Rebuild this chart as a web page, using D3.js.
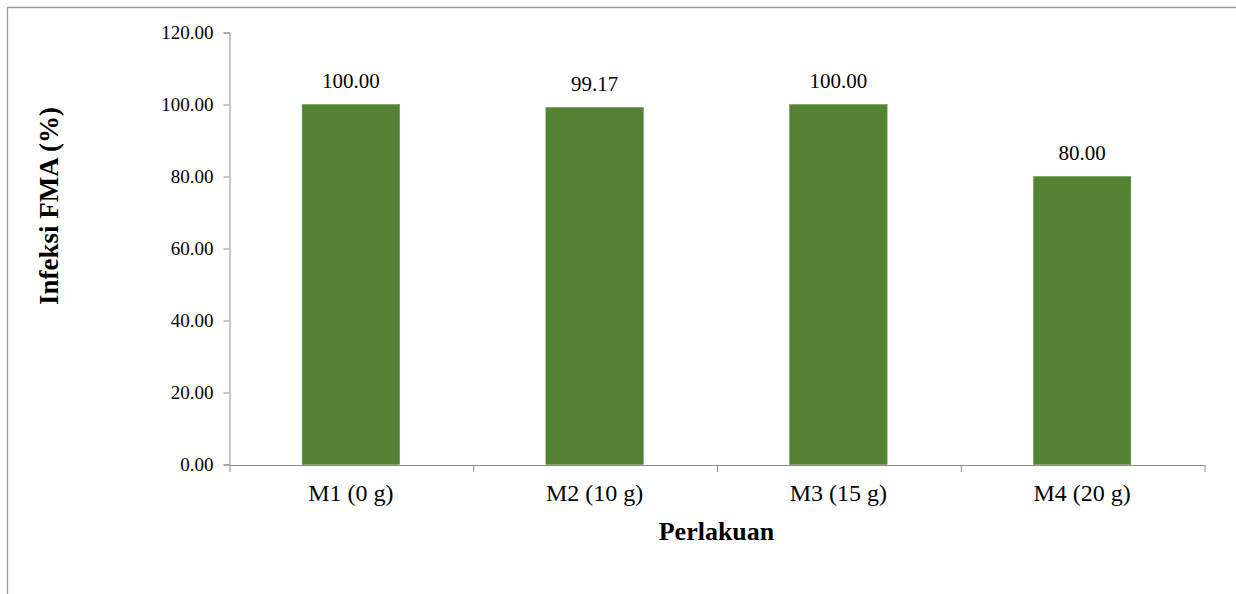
<!DOCTYPE html>
<html>
<head>
<meta charset="utf-8">
<script src="https://cdn.jsdelivr.net/npm/d3@7"></script>
<style>
  html, body { margin: 0; padding: 0; background: #ffffff; overflow: hidden; }
  svg { display: block; }
  text { font-family: "Liberation Serif", "Times New Roman", serif; fill: #000; }
</style>
</head>
<body>
<svg id="chart" width="1236" height="594"></svg>
<script>
// Treatments and mycorrhizal (FMA) infection rates
const categories = ["M1 (0 g)", "M2 (10 g)", "M3 (15 g)", "M4 (20 g)"];
const infection = [100.00, 99.17, 100.00, 80.00];
const yTicks = [0, 20, 40, 60, 80, 100, 120];

const svg = d3.select("#chart");
const serif = "Liberation Serif, Times New Roman, serif";

// Outer chart frame (top and left edges fall inside the view)
svg.append("path")
  .attr("d", "M7.5,600 L7.5,7.5 L1240,7.5")
  .attr("fill", "none").attr("stroke", "#9a9a9a").attr("stroke-width", 1.3);

const plot = { left: 229, right: 1204, top: 32.5, bottom: 464.5 };

const x = d3.scaleBand()
  .domain(categories)
  .range([plot.left, plot.right])
  .paddingInner(0.6)
  .paddingOuter(0.3);

const y = d3.scaleLinear()
  .domain([0, 120])
  .range([plot.bottom, plot.top]);

const axisColor = "#8c8c8c";

// Y axis
const yAxis = svg.append("g")
  .attr("transform", `translate(${plot.left + 0.5},0)`)
  .call(d3.axisLeft(y).tickValues(yTicks).tickFormat(d3.format(".2f")).tickSize(6).tickPadding(10));
yAxis.attr("font-family", serif);
yAxis.select(".domain").attr("stroke", axisColor);
yAxis.selectAll(".tick line").attr("stroke", axisColor);
yAxis.selectAll(".tick text")
  .attr("font-size", 19).attr("fill", "#000");

// X axis: category boundaries marked with ticks
const xBoundaries = d3.range(categories.length + 1);
const bScale = d3.scaleLinear().domain([0, categories.length]).range([plot.left, plot.right]);
const xAxis = svg.append("g")
  .attr("transform", `translate(0,${plot.bottom + 0.5})`)
  .call(d3.axisBottom(bScale).tickValues(xBoundaries).tickFormat("").tickSize(7).tickSizeOuter(0));
xAxis.select(".domain").attr("stroke", axisColor);
xAxis.selectAll(".tick line").attr("stroke", axisColor).attr("transform", "translate(0.5,0)");

// Category labels
svg.append("g").selectAll("text")
  .data(categories)
  .join("text")
  .attr("x", d => x(d) + x.bandwidth() / 2)
  .attr("y", 501)
  .attr("text-anchor", "middle")
  .attr("font-size", 24)
  .text(d => d);

// Bars
svg.append("g").selectAll("rect")
  .data(infection)
  .join("rect")
  .attr("x", (d, i) => x(categories[i]))
  .attr("y", d => y(d))
  .attr("width", x.bandwidth())
  .attr("height", d => y(0) - y(d))
  .attr("fill", "#548235")
  .attr("stroke", "#6f9a52")
  .attr("stroke-width", 0.6);

// Value labels
svg.append("g").selectAll("text")
  .data(infection)
  .join("text")
  .attr("x", (d, i) => x(categories[i]) + x.bandwidth() / 2)
  .attr("y", d => y(d) - 16.5)
  .attr("text-anchor", "middle")
  .attr("font-size", 21)
  .text(d => d3.format(".2f")(d));

// Axis titles
svg.append("text")
  .attr("x", (plot.left + plot.right) / 2)
  .attr("y", 540)
  .attr("text-anchor", "middle")
  .attr("font-size", 26)
  .attr("font-weight", "bold")
  .text("Perlakuan");

svg.append("text")
  .attr("transform", `translate(58,206) rotate(-90)`)
  .attr("text-anchor", "middle")
  .attr("font-size", 27)
  .attr("font-weight", "bold")
  .text("Infeksi FMA (%)");
</script>
</body>
</html>
